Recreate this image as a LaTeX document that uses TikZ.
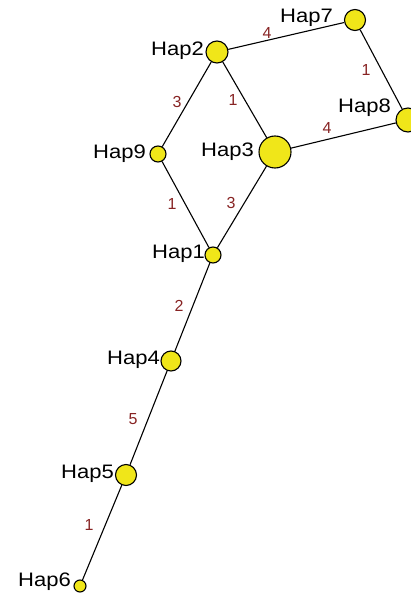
\documentclass[tikz,border=0pt]{standalone}
\usepackage{fontspec}
\setmainfont{Liberation Sans}
\definecolor{hapfill}{RGB}{240,230,25}
\definecolor{edgelab}{RGB}{135,35,35}
\tikzset{
  hap/.style={circle,draw=black,line width=1.1pt,fill=hapfill,inner sep=0pt,minimum size=#1},
  haplab/.style={anchor=east,inner sep=0pt,font=\fontsize{19.5}{21}\selectfont},
  elab/.style={inner sep=0pt,text=edgelab,font=\fontsize{16}{18}\selectfont},
  link/.style={line width=1.1pt,draw=black}
}
\newcommand{\wide}[1]{\scalebox{1.13}[1]{#1}}
\begin{document}
\begin{tikzpicture}[x=1pt,y=-1pt]
\useasboundingbox (0,0) rectangle (411,596);
\clip (0,0) rectangle (411,596);
% nodes
\node[hap=21pt] (h7) at (355,20) {};
\node[hap=22pt] (h2) at (217,52) {};
\node[hap=24pt] (h8) at (408,120) {};
\node[hap=32pt] (h3) at (275,152) {};
\node[hap=16pt] (h9) at (158,154) {};
\node[hap=16pt] (h1) at (213,255) {};
\node[hap=20pt] (h4) at (171,361) {};
\node[hap=21pt] (h5) at (126,475) {};
\node[hap=12pt] (h6) at (80,586) {};
% edges
\draw[link] (h2) -- (h7);
\draw[link] (h7) -- (h8);
\draw[link] (h2) -- (h9);
\draw[link] (h2) -- (h3);
\draw[link] (h3) -- (h8);
\draw[link] (h9) -- (h1);
\draw[link] (h3) -- (h1);
\draw[link] (h1) -- (h4);
\draw[link] (h4) -- (h5);
\draw[link] (h5) -- (h6);
% labels
\node[haplab] (l7) at (333,18) {\wide{Hap7}};
\node[haplab] (l2) at (204,51) {\wide{Hap2}};
\node[haplab] (l8) at (391,108) {\wide{Hap8}};
\node[haplab] (l3) at (254,152) {\wide{Hap3}};
\node[haplab] (l9) at (146,154) {\wide{Hap9}};
\node[haplab] (l1) at (205,254) {\wide{Hap1}};
\node[haplab] (l4) at (160,360) {\wide{Hap4}};
\node[haplab] (l5) at (114,474) {\wide{Hap5}};
\node[haplab] (l6) at (71,582) {\wide{Hap6}};
% edge labels
\node[elab] (e27) at (267,33) {4};
\node[elab] (e78) at (366,70) {1};
\node[elab] (e29) at (177,102) {3};
\node[elab] (e23) at (233,100) {1};
\node[elab] (e38) at (327,128) {4};
\node[elab] (e91) at (172,204) {1};
\node[elab] (e31) at (231,203) {3};
\node[elab] (e14) at (179,306) {2};
\node[elab] (e45) at (133,419) {5};
\node[elab] (e56) at (89,525) {1};
\end{tikzpicture}
\end{document}
